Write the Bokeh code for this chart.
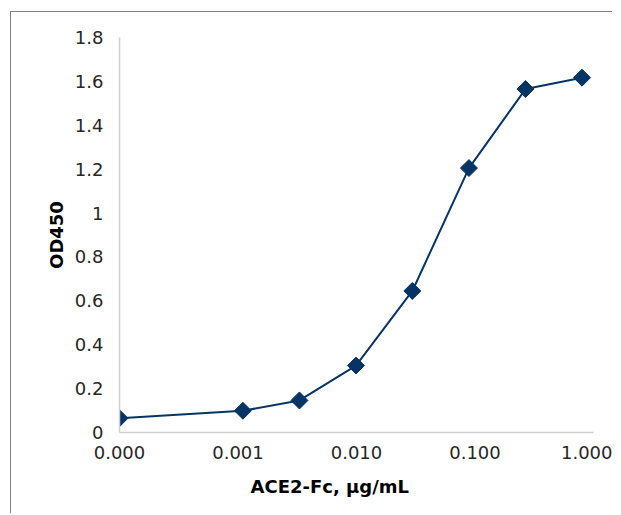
import numpy as np
from bokeh.plotting import figure
from bokeh.models import FixedTicker, Title
from bokeh.embed import file_html
from bokeh.resources import INLINE

# data
concentration = [0.0001, 0.0011, 0.0033, 0.0099, 0.0296, 0.0889, 0.2667, 0.8]
od450 = [0.065, 0.099, 0.146, 0.305, 0.645, 1.205, 1.565, 1.617]
x_ticks = [0.0001, 0.001, 0.01, 0.1, 1.0]
x_tick_labels = ["0.000", "0.001", "0.010", "0.100", "1.000"]
y_ticks = [0, 0.2, 0.4, 0.6, 0.8, 1.0, 1.2, 1.4, 1.6, 1.8]
y_tick_labels = ["0", "0.2", "0.4", "0.6", "0.8", "1", "1.2", "1.4", "1.6", "1.8"]
x_title = "ACE2-Fc, µg/mL"
y_title = "OD450"

NAVY = "#063565"
FONT = "DejaVu Sans"

p = figure(width=602, height=502, x_axis_type="log",
           x_range=(0.0001, 1.0), y_range=(0, 1.8),
           output_backend="svg", toolbar_location=None,
           min_border_left=108, min_border_right=20,
           min_border_top=25, min_border_bottom=82)
p.styles = {"border-top": "1px solid #808080", "border-left": "1px solid #808080",
            "margin-left": "10px", "margin-top": "11px"}
p.outline_line_color = None
p.grid.visible = False
p.background_fill_color = "white"
p.border_fill_color = "white"

p.line(concentration, od450, line_color=NAVY, line_width=2)
p.scatter(concentration, od450, marker="square", angle=np.pi / 4, size=12,
          fill_color=NAVY, line_color=NAVY)

for ax in (p.xaxis[0], p.yaxis[0]):
    ax.axis_line_color = "#d0d0d0"
    ax.axis_line_width = 1.5
    ax.major_tick_line_color = None
    ax.minor_tick_line_color = None
    ax.major_tick_out = 0
    ax.major_tick_in = 0
    ax.major_label_text_font = FONT
    ax.major_label_text_font_size = "18px"
    ax.major_label_text_color = "#262626"

p.xaxis.ticker = FixedTicker(ticks=x_ticks, minor_ticks=[])
p.xaxis.major_label_overrides = {t: l for t, l in zip(x_ticks, x_tick_labels)}
p.xaxis.major_label_standoff = 13

p.yaxis.ticker = FixedTicker(ticks=y_ticks, minor_ticks=[])
p.yaxis.major_label_overrides = {t: l for t, l in zip(y_ticks, y_tick_labels)}
p.yaxis.major_label_standoff = 16
p.yaxis.axis_label = y_title
p.yaxis.axis_label_text_font = FONT
p.yaxis.axis_label_text_font_style = "bold"
p.yaxis.axis_label_text_font_size = "18px"
p.yaxis.axis_label_text_color = "black"
p.yaxis.axis_label_standoff = 5

p.add_layout(Title(text=x_title, align="left", offset=131, standoff=25,
                   text_font=FONT, text_font_style="bold", text_font_size="18px",
                   text_color="black"), "below")

open("out.html", "w").write(file_html(p, INLINE))
